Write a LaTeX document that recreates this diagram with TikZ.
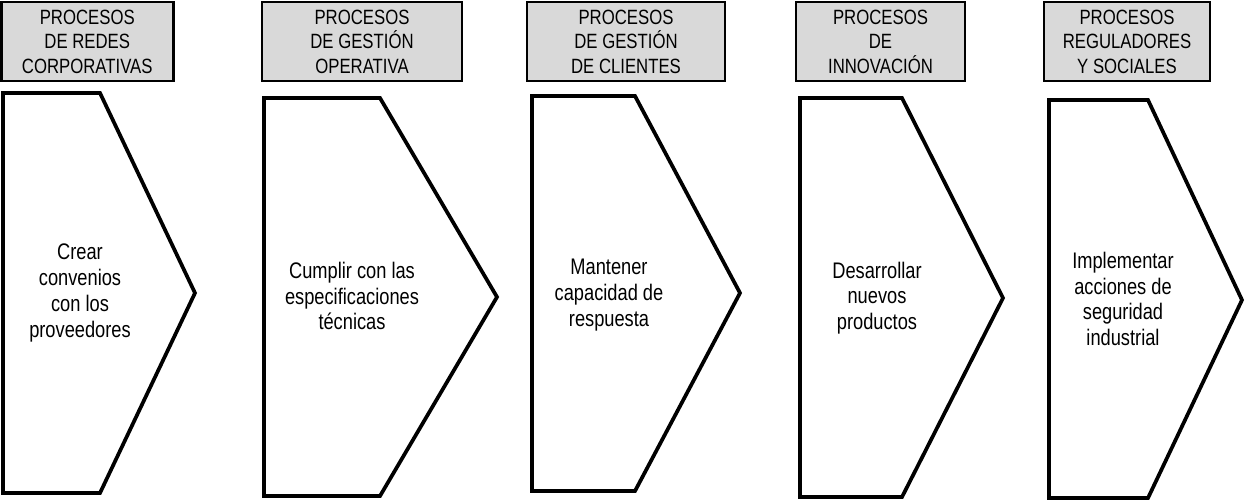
\documentclass[tikz,border=0pt]{standalone}
\usepackage{fontspec}
\setmainfont{Liberation Sans}[FakeStretch=0.81]
\definecolor{gris}{RGB}{217,217,217}
\begin{document}
\begin{tikzpicture}[x=.75pt,y=-.75pt,line join=miter,
  cabecera/.style={draw,line width=2.2pt,fill=gris,inner sep=0pt,align=center,
    minimum height=59.25pt,font=\fontsize{15.5}{18.4}\selectfont},
  proceso/.style={line width=2.8pt},
  texto/.style={align=center,inner sep=0pt,font=\fontsize{16.9}{19.3}\selectfont}]
  \useasboundingbox (0,0) rectangle (1247,501);
  % cabeceras
  \node[cabecera,minimum width=129pt] (h1) at (87.25,41.5)
    {PROCESOS\\DE REDES\\CORPORATIVAS};
  \node[cabecera,minimum width=150pt] (h2) at (362,41.5)
    {PROCESOS\\DE GESTIÓN\\OPERATIVA};
  \node[cabecera,minimum width=148.5pt] (h3) at (626,41.5)
    {PROCESOS\\DE GESTIÓN\\DE CLIENTES};
  \node[cabecera,minimum width=126.75pt] (h4) at (880.5,41.5)
    {PROCESOS\\DE\\INNOVACIÓN};
  \node[cabecera,minimum width=124.5pt] (h5) at (1127,41.5)
    {PROCESOS\\REGULADORES\\Y SOCIALES};
  % flechas
  \draw[proceso] (3,93)--(100,93)--(195,293)--(100,493)--(3,493)--cycle;
  \draw[proceso] (264,98)--(380,98)--(497,297)--(380,496)--(264,496)--cycle;
  \draw[proceso] (532,96)--(635,96)--(740,293)--(635,491)--(532,491)--cycle;
  \draw[proceso] (800,98)--(902,98)--(1003,298)--(902,497)--(800,497)--cycle;
  \draw[proceso] (1049,100)--(1148,100)--(1242,300)--(1148,498)--(1049,498)--cycle;
  \node[texto] (p1) at (80,293) {Crear\\convenios\\con los\\proveedores};
  \node[texto] (p2) at (352,296) {Cumplir con las\\especificaciones\\técnicas};
  \node[texto] (p3) at (609,295) {Mantener\\capacidad de\\respuesta};
  \node[texto] (p4) at (877,298) {Desarrollar\\nuevos\\productos};
  \node[texto] (p5) at (1123,299) {Implementar\\acciones de\\seguridad\\industrial};
\end{tikzpicture}
\end{document}
